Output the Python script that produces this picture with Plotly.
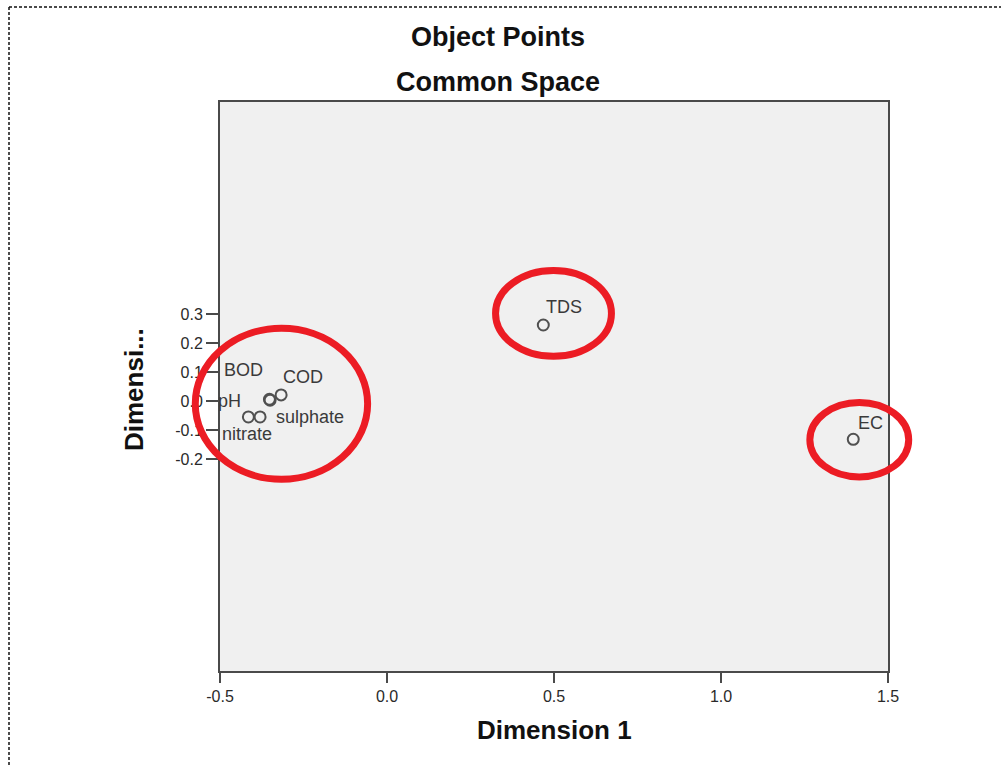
import plotly.graph_objects as go

# ---------------- data ----------------
objects = ["BOD", "COD", "pH", "sulphate", "nitrate", "TDS", "EC"]
dim1 = [-0.352, -0.317, -0.350, -0.380, -0.415, 0.468, 1.396]
dim2 = [0.006, 0.021, 0.003, -0.055, -0.055, 0.262, -0.132]

x_ticks = [-0.5, 0.0, 0.5, 1.0, 1.5]
x_tick_labels = ["-0.5", "0.0", "0.5", "1.0", "1.5"]
y_ticks = [-0.2, -0.1, 0.0, 0.1, 0.2, 0.3]
y_tick_labels = ["-0.2", "-0.1", "0.0", "0.1", "0.2", "0.3"]

title_lines = ["Object Points", "Common Space"]
x_title = "Dimension 1"
y_title = "Dimensi..."

# highlight ellipses (data units: x0, x1, y0, y1)
ellipses = [
    (-0.574, -0.058, -0.270, 0.251),
    (0.325, 0.672, 0.154, 0.450),
    (1.266, 1.562, -0.262, -0.005),
]

# ---------------- style ----------------
X_RANGE = [-0.5, 1.5]
Y_RANGE = [-0.931, 1.031]
FONT = "Liberation Sans, Arial, sans-serif"
AXIS_COL = "#4a4a4a"
RED = "#ec1c24"

# label offsets in pixels (xshift, yshift, xanchor)
label_offsets = {
    "BOD": (-26, 29, "center"),
    "COD": (22, 18, "center"),
    "pH": (-27, -1, "right"),
    "sulphate": (14, 0, "left"),
    "nitrate": (-1, -17, "center"),
    "TDS": (21, 18, "center"),
    "EC": (17, 16, "center"),
}


def to_paper_x(v):
    return (v - X_RANGE[0]) / (X_RANGE[1] - X_RANGE[0])


def to_paper_y(v):
    return (v - Y_RANGE[0]) / (Y_RANGE[1] - Y_RANGE[0])


fig = go.Figure()
fig.add_trace(go.Scatter(
    x=dim1, y=dim2, mode="markers",
    marker=dict(symbol="circle-open", size=11, color="#505050",
                line=dict(width=2, color="#505050")),
    hovertext=objects, hoverinfo="text", showlegend=False, cliponaxis=False,
))

annotations = []
for name, xv, yv in zip(objects, dim1, dim2):
    xs, ys, anc = label_offsets[name]
    annotations.append(dict(
        x=xv, y=yv, xref="x", yref="y", text=name, showarrow=False,
        xshift=xs, yshift=ys, xanchor=anc, yanchor="middle",
        font=dict(family=FONT, size=18, color="#3a3a3a"),
    ))

bold = dict(family=FONT, color="#111", weight="bold")
# titles
annotations.append(dict(text=title_lines[0], xref="paper", yref="paper",
                        x=0.416, y=(671 - 37) / 569, showarrow=False,
                        xanchor="center", yanchor="middle",
                        font=dict(size=27, **bold)))
annotations.append(dict(text=title_lines[1], xref="paper", yref="paper",
                        x=0.416, y=(671 - 82) / 569, showarrow=False,
                        xanchor="center", yanchor="middle",
                        font=dict(size=27, **bold)))
annotations.append(dict(text=x_title, xref="paper", yref="paper",
                        x=0.5, y=(671 - 730) / 569, showarrow=False,
                        xanchor="center", yanchor="middle",
                        font=dict(size=26, **bold)))
annotations.append(dict(text=y_title, xref="paper", yref="paper",
                        x=(134 - 220) / 668, y=(671 - 390) / 569, showarrow=False,
                        xanchor="center", yanchor="middle", textangle=-90,
                        font=dict(size=26, **bold)))

shapes = []
for (x0, x1, y0, y1) in ellipses:
    shapes.append(dict(type="circle", xref="paper", yref="paper",
                       x0=to_paper_x(x0), x1=to_paper_x(x1),
                       y0=to_paper_y(y0), y1=to_paper_y(y1),
                       line=dict(color=RED, width=7), layer="above"))

# dashed page border (left and top)
shapes.append(dict(type="line", xref="paper", yref="paper",
                   x0=(9 - 220) / 668, x1=(9 - 220) / 668,
                   y0=(671 - 765) / 569, y1=(671 - 7) / 569,
                   line=dict(color="#111", width=1.5, dash="3px,2px"), layer="above"))
shapes.append(dict(type="line", xref="paper", yref="paper",
                   x0=(9 - 220) / 668, x1=(1001 - 220) / 668,
                   y0=(671 - 7) / 569, y1=(671 - 7) / 569,
                   line=dict(color="#111", width=1.5, dash="3px,2px"), layer="above"))

axis_common = dict(showgrid=False, zeroline=False, showline=True, mirror=True,
                   linecolor=AXIS_COL, linewidth=2, ticks="outside",
                   tickcolor=AXIS_COL, tickwidth=2,
                   tickfont=dict(family=FONT, size=16, color="#2a2a2a"))

fig.update_layout(
    width=1001, height=765,
    margin=dict(l=220, r=113, t=102, b=94),
    paper_bgcolor="white", plot_bgcolor="#f0f0f0",
    xaxis=dict(range=X_RANGE, tickvals=x_ticks, ticktext=x_tick_labels,
               ticklen=10, **axis_common),
    yaxis=dict(range=Y_RANGE, tickvals=y_ticks, ticktext=y_tick_labels,
               ticklen=12, **axis_common),
    annotations=annotations, shapes=shapes, showlegend=False,
)

fig.write_html("out.html", config={"displayModeBar": False},
               post_script="document.body.style.margin='0';")
